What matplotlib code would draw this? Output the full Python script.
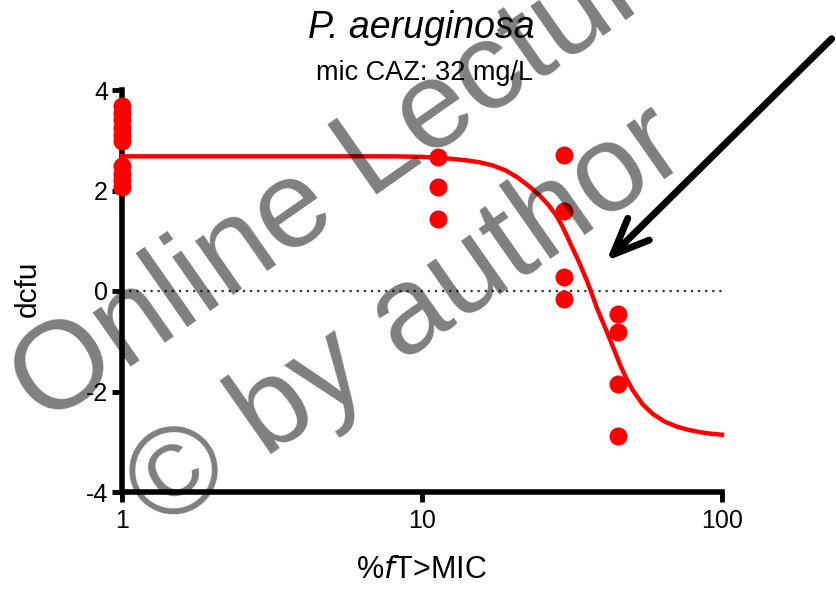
import matplotlib
matplotlib.use("Agg")
import matplotlib.pyplot as plt

plt.rcParams['font.family'] = ['Liberation Sans', 'DejaVu Sans']
plt.rcParams['axes.unicode_minus'] = False

### data
x_pts = [1, 1, 1, 1, 1, 1, 1, 1, 1, 1,
         11.3, 11.3, 11.3,
         29.7, 29.7, 29.7, 29.7,
         45, 45, 45, 45]
y_pts = [3.68, 3.55, 3.4, 3.25, 3.1, 2.98, 2.48, 2.33, 2.2, 2.06,
         2.66, 2.06, 1.44,
         2.7, 1.6, 0.28, -0.16,
         -0.46, -0.82, -1.86, -2.88]

# fitted curve, read at points along the line
curve_x = [1, 8, 10, 11.3, 12.6, 14.1, 15.6, 17.2, 19.0, 20.7, 22.6, 24.7,
           26.5, 28.2, 29.3, 30.4, 31.6, 32.9, 34.2, 35.5, 36.9, 38.3, 39.8,
           41.4, 43.5, 45.7, 48, 50.5, 54.5, 58.9, 64.5, 70.8, 77, 84.5, 92, 100]
curve_y = [2.68, 2.68, 2.67, 2.65, 2.63, 2.6, 2.56, 2.5, 2.4, 2.27, 2.1, 1.9,
           1.7, 1.48, 1.3, 1.1, 0.88, 0.66, 0.43, 0.2, -0.07, -0.34, -0.58,
           -0.82, -1.14, -1.46, -1.74, -1.98, -2.26, -2.45, -2.6, -2.7, -2.76,
           -2.81, -2.84, -2.86]

xticks = [1, 10, 100]
xtick_labels = ['1', '10', '100']
yticks = [-4, -2, 0, 2, 4]

title = 'P. aeruginosa'
subtitle = 'mic CAZ: 32 mg/L'
xlabel = '%$\\it{f}$T>MIC'
ylabel = 'dcfu'


W, H = 837, 591
fig = plt.figure(figsize=(W / 100, H / 100), dpi=100)
ax = fig.add_axes([122 / W, 1 - 492 / H, 600 / W, 402 / H])

ax.set_xscale('log')
ax.set_xlim(1, 100)
ax.set_ylim(-4, 4)

ax.axhline(0, color='#333333', lw=1.6, ls=(0, (1, 2.2)), zorder=1)
ax.plot(curve_x, curve_y, color='#ff0000', lw=3.2, zorder=3, clip_on=False)
ax.plot(x_pts, y_pts, 'o', color='#ff0000', ms=13, mec='none', zorder=4, clip_on=False)

for s in ['top', 'right']:
    ax.spines[s].set_visible(False)
for s in ['left', 'bottom']:
    ax.spines[s].set_linewidth(4)
    ax.spines[s].set_capstyle('projecting')

ax.set_xticks(xticks)
ax.set_xticklabels(xtick_labels)
ax.minorticks_off()
ax.set_yticks(yticks)
ax.tick_params(axis='both', direction='out', length=7, width=3.5,
               labelsize=18, color='black')
ax.tick_params(axis='x', pad=5)
ax.tick_params(axis='y', pad=3)

fig.text(421 / W, 1 - 38 / H, title, ha='center', va='baseline',
         fontsize=27, style='italic')
fig.text(425 / W, 1 - 80 / H, subtitle, ha='center', va='baseline', fontsize=19.5)
fig.text(421 / W, 1 - 578 / H, xlabel, ha='center', va='baseline', fontsize=22)
fig.text(28 / W, 1 - 289 / H, ylabel, ha='center', va='center', rotation=90,
         fontsize=21.5)

# arrow
ax.annotate('', xy=(41.2, 0.6), xytext=(232, 5.02), xycoords='data',
            textcoords='data', annotation_clip=False,
            arrowprops=dict(arrowstyle='->,head_length=1.3,head_width=0.55',
                            lw=5, color='black', mutation_scale=20,
                            shrinkA=0, shrinkB=0, capstyle='round',
                            joinstyle='round'))

# watermark
fig.text(44 / W, 1 - 427 / H, 'Online Lecture', rotation=35,
         rotation_mode='anchor', ha='left', va='baseline', fontsize=90,
         color='black', alpha=0.5, zorder=10)
fig.text(161 / W, 1 - 532 / H, '\u00a9 by author', rotation=35,
         rotation_mode='anchor', ha='left', va='baseline', fontsize=90,
         color='black', alpha=0.5, zorder=10)

fig.savefig('out.png', dpi=100)
